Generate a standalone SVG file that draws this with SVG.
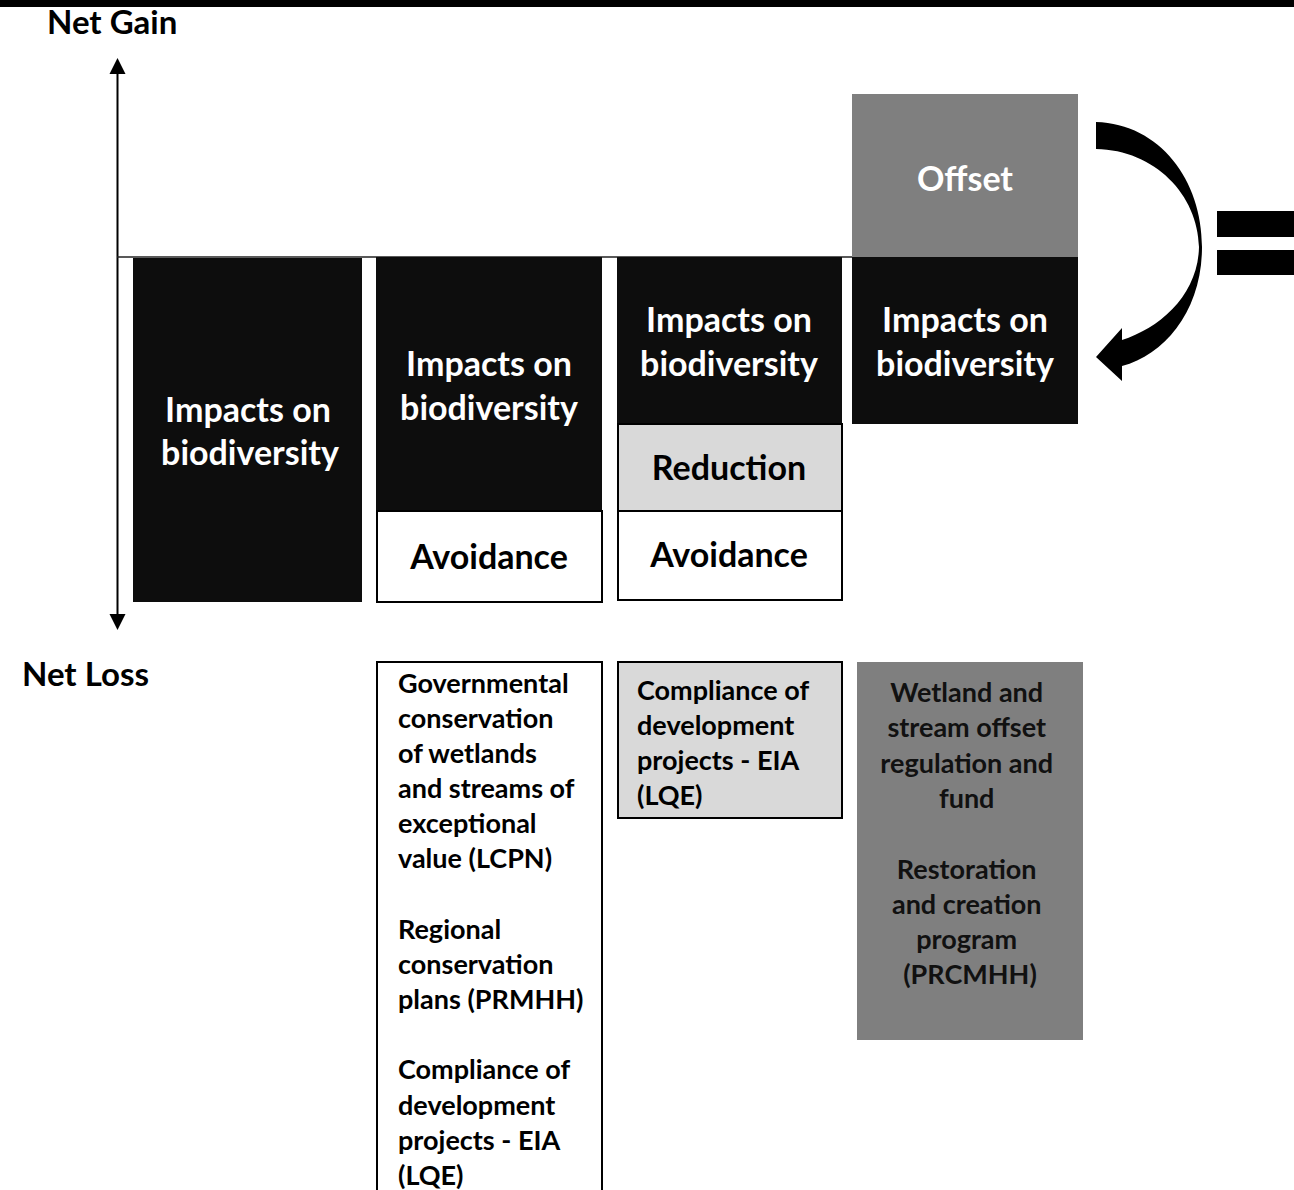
<svg xmlns="http://www.w3.org/2000/svg" width="1294" height="1190" viewBox="0 0 1294 1190">
<style>
.t{font-family:Lato,"Open Sans",sans-serif;font-weight:bold}
.big{font-size:34px}
.sm{font-size:27px}
.ax{font-size:33px}
.w{fill:#ffffff}
.k{fill:#000000}
.dark{fill:#0d0d0d}
.brd{stroke:#000;stroke-width:2}
</style>
<rect x="0" y="0" width="1294" height="1190" fill="#fff"/>
<rect x="0" y="0" width="1294" height="7" fill="#000"/>

<g id="connectors">
<line x1="117.5" y1="74" x2="117.5" y2="614" stroke="#000" stroke-width="2"/>
<path d="M117.5,58 L109.5,74 L125.5,74 Z" fill="#000"/>
<path d="M117.5,630 L109.5,614 L125.5,614 Z" fill="#000"/>
<line x1="117" y1="257" x2="852" y2="257" stroke="#222" stroke-width="1.5"/>
<path d="M1096,122 C1160,124 1202,180 1202,247 C1202,310 1165,355 1122,366 L1122,381 L1096,357 L1122,328 L1122,340 C1160,328 1198,295 1199,247 C1198,195 1155,150 1096,149 Z" fill="#000"/>
<rect x="1217" y="211" width="77" height="26" fill="#000"/>
<rect x="1217" y="250" width="77" height="25" fill="#000"/>
</g>

<g id="axis-labels">
<text class="t ax k" x="47" y="34">Net Gain</text>
<text class="t ax k" x="22" y="686">Net Loss</text>
</g>

<g id="col1-impacts">
<rect x="133" y="258" width="229" height="344" class="dark"/>
<text class="t big w" text-anchor="middle" x="248" y="422">Impacts on</text>
<text class="t big w" text-anchor="middle" x="250" y="465">biodiversity</text>
</g>

<g id="col2-impacts">
<rect x="376" y="257" width="226" height="254" class="dark"/>
<text class="t big w" text-anchor="middle" x="489" y="376">Impacts on</text>
<text class="t big w" text-anchor="middle" x="489" y="420">biodiversity</text>
</g>
<g id="col2-avoidance">
<rect x="377" y="511" width="225" height="91" fill="#fff" class="brd"/>
<text class="t big k" text-anchor="middle" x="489" y="569">Avoidance</text>
</g>

<g id="col3-impacts">
<rect x="617" y="257" width="225" height="167" class="dark"/>
<text class="t big w" text-anchor="middle" x="729" y="332">Impacts on</text>
<text class="t big w" text-anchor="middle" x="729" y="376">biodiversity</text>
</g>
<g id="col3-reduction">
<rect x="618" y="424" width="224" height="87" fill="#d9d9d9" class="brd"/>
<text class="t big k" text-anchor="middle" x="729" y="480">Reduction</text>
</g>
<g id="col3-avoidance">
<rect x="618" y="511" width="224" height="89" fill="#fff" class="brd"/>
<text class="t big k" text-anchor="middle" x="729" y="567">Avoidance</text>
</g>

<g id="col4-offset">
<rect x="852" y="94" width="226" height="163" fill="#7f7f7f"/>
<text class="t big w" text-anchor="middle" x="965" y="191">Offset</text>
</g>
<g id="col4-impacts">
<rect x="852" y="257" width="226" height="167" class="dark"/>
<text class="t big w" text-anchor="middle" x="965" y="332">Impacts on</text>
<text class="t big w" text-anchor="middle" x="965" y="376">biodiversity</text>
</g>

<g id="avoidance-tools">
<rect x="377" y="662" width="225" height="540" fill="#fff" class="brd"/>
<text class="t sm k" x="398">
<tspan x="398" y="693">Governmental</tspan>
<tspan x="398" y="728">conservation</tspan>
<tspan x="398" y="763">of wetlands</tspan>
<tspan x="398" y="798">and streams of</tspan>
<tspan x="398" y="833">exceptional</tspan>
<tspan x="398" y="868">value (LCPN)</tspan>
<tspan x="398" y="939">Regional</tspan>
<tspan x="398" y="974">conservation</tspan>
<tspan x="398" y="1009">plans (PRMHH)</tspan>
<tspan x="398" y="1079">Compliance of</tspan>
<tspan x="398" y="1115">development</tspan>
<tspan x="398" y="1150">projects - EIA</tspan>
<tspan x="398" y="1185">(LQE)</tspan>
</text>
</g>

<g id="reduction-tools">
<rect x="618" y="662" width="224" height="156" fill="#d9d9d9" class="brd"/>
<text class="t sm k">
<tspan x="637" y="700">Compliance of</tspan>
<tspan x="637" y="735">development</tspan>
<tspan x="637" y="770">projects - EIA</tspan>
<tspan x="637" y="805">(LQE)</tspan>
</text>
</g>

<g id="offset-tools">
<rect x="857" y="662" width="226" height="378" fill="#7f7f7f"/>
<text class="t sm" fill="#111" text-anchor="middle">
<tspan x="970" y="702">Wetland and</tspan>
<tspan x="970" y="737">stream offset</tspan>
<tspan x="970" y="773">regulation and</tspan>
<tspan x="970" y="808">fund</tspan>
<tspan x="970" y="879">Restoration</tspan>
<tspan x="970" y="914">and creation</tspan>
<tspan x="970" y="949">program</tspan>
<tspan x="970" y="984">(PRCMHH)</tspan>
</text>
</g>
</svg>
